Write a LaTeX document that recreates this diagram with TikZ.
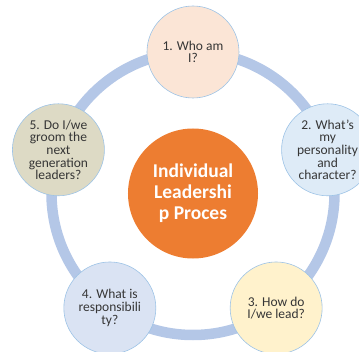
\documentclass[tikz,border=0pt]{standalone}
\usepackage{fontspec}
\setmainfont{Carlito}
\usetikzlibrary{positioning}

\definecolor{ringblue}{HTML}{B4C7E7}
\definecolor{edgeblue}{HTML}{9DC3E6}
\definecolor{coreorange}{HTML}{ED7D31}
\definecolor{peach}{HTML}{FBE5D6}
\definecolor{paleblue}{HTML}{DEEBF7}
\definecolor{paleyellow}{HTML}{FFF2CC}
\definecolor{greyblue}{HTML}{DAE3F3}
\definecolor{khaki}{HTML}{DDDAC5}
\definecolor{darktext}{HTML}{363636}

\begin{document}
\begin{tikzpicture}[x=1pt,y=1pt]
\tikzstyle{ring} = [line width=10.5pt,ringblue]
\tikzstyle{question} = [circle,draw=edgeblue,line width=0.6pt,minimum size=92pt,inner sep=0pt,align=center,text=darktext,font=\fontsize{13.5}{12.6}\selectfont]
\tikzstyle{core} = [circle,fill=coreorange,minimum size=130pt,inner sep=0pt,align=center,text=white,font=\bfseries\fontsize{19.5}{21}\selectfont]

\useasboundingbox (-193,-157.5) rectangle (166,193.5);
\clip (-193,-157.5) rectangle (166,193.5);

%Big ring that links the five questions
\coordinate (centre) at (0,0);
\draw[ring] (centre) circle (141.5pt);

%Process in the middle
\node[core] (process) at (centre) {Individual\\Leadershi\\p Proces};

%The five questions round the ring
\node[question,fill=peach] (who) at (90:141.5) {1. Who am\\I?};
\node[question,fill=paleblue] (personality) at (18:141.5) {2. What's\\my\\personality\\and\\character?};
\node[question,fill=paleyellow] (lead) at (-54:141.5) {3. How do\\I/we lead?};
\node[question,fill=greyblue] (responsibility) at (-126:141.5) {4. What is\\responsibili\\ty?};
\node[question,fill=khaki] (groom) at (162:141.5) {5. Do I/we\\groom the\\next\\generation\\leaders?};

\end{tikzpicture}
\end{document}
